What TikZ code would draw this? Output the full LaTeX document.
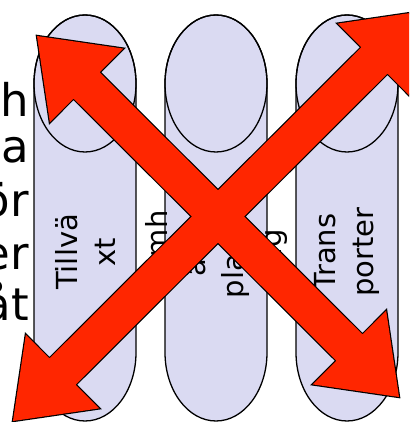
\documentclass[tikz,border=0pt]{standalone}
\usepackage{fontspec}
\setmainfont{DejaVu Sans}
\usepackage{tikz}
\usetikzlibrary{calc}
\definecolor{Lavender}{RGB}{218,218,242}
\definecolor{Signal}{RGB}{255,38,0}
\newcommand{\bigarrow}[2]{%
  (#1) -- ($(#1)!70pt!(#2)!52pt!90:(#2)$) -- ($(#1)!70pt!(#2)!18.5pt!90:(#2)$)
  -- ($(#2)!70pt!(#1)!18.5pt!-90:(#1)$) -- ($(#2)!70pt!(#1)!52pt!-90:(#1)$) -- (#2)
  -- ($(#2)!70pt!(#1)!52pt!90:(#1)$) -- ($(#2)!70pt!(#1)!18.5pt!90:(#1)$)
  -- ($(#1)!70pt!(#2)!18.5pt!-90:(#2)$) -- ($(#1)!70pt!(#2)!52pt!-90:(#2)$) -- cycle}

\begin{document}
\begin{tikzpicture}[x=1pt, y=1pt,
        drum/.style={fill=Lavender, draw=black, line width=1.3pt},
        drumtext/.style={font=\fontsize{29}{38}\selectfont, align=center, rotate=90, inner sep=0pt},
        margintext/.style={font=\fontsize{45}{51}\selectfont, anchor=base east, inner sep=0pt},
        blockline/.style={draw=black, line width=2.4pt, line join=miter}]
        \path[use as bounding box, clip] (0,0) rectangle (409,422);
        \foreach \t/\y [count=\i] in {h/305, ta/259, ör/205, er/152, åt/101}
          \node[margintext] (m\i) at (29,\y) {\t};
        \foreach \cx in {85,216,347} {
          \path[drum] (\cx-51,338.5) -- (\cx-51,69.5)
            arc[start angle=180, end angle=360, x radius=51pt, y radius=68.5pt]
            -- (\cx+51,338.5)
            arc[start angle=0, end angle=180, x radius=51pt, y radius=68.5pt] -- cycle;
          \draw[line width=1.3pt] (\cx,338.5) ellipse[x radius=51pt, y radius=68.5pt];
        }
        \node[drumtext] (tillvaxt)    at (85,170)  {Tillvä\\xt};
        \node[drumtext] (samhalls)    at (216,170) {Samh\\älls\\planer\\ing};
        \node[drumtext] (transporter) at (347,170) {Trans\\porter};
        \coordinate (tl) at (37,386);
        \coordinate (br) at (399,25);
        \coordinate (bl) at (13,1);
        \coordinate (tr) at (424,411);
        \path[blockline] \bigarrow{tl}{br} \bigarrow{bl}{tr};
        \fill[Signal] \bigarrow{tl}{br};
        \fill[Signal] \bigarrow{bl}{tr};
\end{tikzpicture}
\end{document}
